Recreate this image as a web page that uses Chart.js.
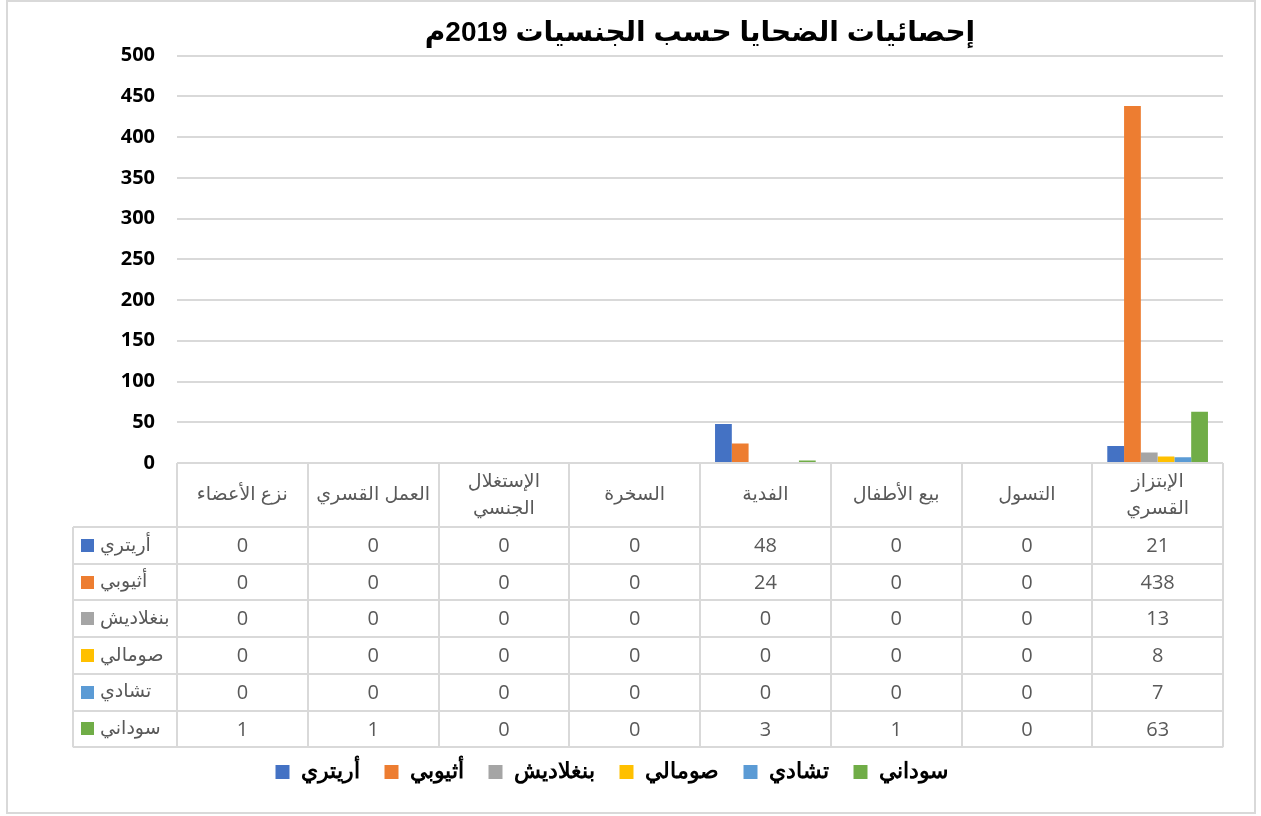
<!DOCTYPE html>
<html lang="ar">
<head>
<meta charset="utf-8">
<title>إحصائيات الضحايا حسب الجنسيات 2019م</title>
<script src="https://cdn.jsdelivr.net/npm/chart.js@4/dist/chart.umd.min.js"></script>
<style>
    html, body { margin: 0; padding: 0; background: #fff; }
    #wrap { width: 1261px; height: 816px; position: relative; }
</style>
</head>
<body>
<div id="wrap"><canvas id="victimsChart" width="1261" height="816"></canvas></div>
<script>
// ============================================
// DATA (categories shown left -> right)
// ============================================
const categories = [
    ['نزع الأعضاء'],
    ['العمل القسري'],
    ['الإستغلال', 'الجنسي'],
    ['السخرة'],
    ['الفدية'],
    ['بيع الأطفال'],
    ['التسول'],
    ['الإبتزاز', 'القسري']
];

const seriesNames = ['أريتري', 'أثيوبي', 'بنغلاديش', 'صومالي', 'تشادي', 'سوداني'];

const eritrea    = [0, 0, 0, 0, 48, 0, 0, 21];
const ethiopia   = [0, 0, 0, 0, 24, 0, 0, 438];
const bangladesh = [0, 0, 0, 0, 0, 0, 0, 13];
const somalia    = [0, 0, 0, 0, 0, 0, 0, 8];
const chad       = [0, 0, 0, 0, 0, 0, 0, 7];
const sudan      = [1, 1, 0, 0, 3, 1, 0, 63];

const yTicks = [0, 50, 100, 150, 200, 250, 300, 350, 400, 450, 500];

const seriesValues = [eritrea, ethiopia, bangladesh, somalia, chad, sudan];
const seriesColors = ['#4472C4', '#ED7D31', '#A5A5A5', '#FFC000', '#5B9BD5', '#70AD47'];

const GRID = '#d9d9d9';
const TEXT_GRAY = '#595959';
const ARABIC_FONT = '"Liberation Sans", "DejaVu Sans", sans-serif';

// ============================================
// PLUGINS
// ============================================
const frameBorder = {
    id: 'frameBorder',
    beforeDraw(chart) {
        const ctx = chart.ctx;
        ctx.save();
        ctx.fillStyle = '#fff';
        ctx.fillRect(0, 0, chart.width, chart.height);
        ctx.strokeStyle = GRID;
        ctx.lineWidth = 2;
        ctx.strokeRect(7, 1, 1248, 812);
        ctx.restore();
    }
};

// Excel-style data table under the plot
const dataTable = {
    id: 'dataTable',
    afterDraw(chart) {
        const ctx = chart.ctx;
        const x = chart.scales.x;
        const top = chart.chartArea.bottom;
        const headerH = 64;
        const rowH = 36.7;
        const left = x.left;
        const right = x.right;
        const colW = (right - left) / categories.length;
        const rowLeft = 73;
        const bottom = top + headerH + rowH * seriesValues.length;

        ctx.save();
        ctx.strokeStyle = GRID;
        ctx.lineWidth = 2;

        // vertical lines of category columns
        for (let i = 0; i <= categories.length; i++) {
            const px = Math.round(left + i * colW);
            ctx.beginPath();
            ctx.moveTo(px, top);
            ctx.lineTo(px, bottom);
            ctx.stroke();
        }
        // left edge of row header column
        ctx.beginPath();
        ctx.moveTo(rowLeft, top + headerH);
        ctx.lineTo(rowLeft, bottom);
        ctx.stroke();

        // horizontal lines
        ctx.beginPath();
        ctx.moveTo(left, top);
        ctx.lineTo(right, top);
        ctx.stroke();
        for (let r = 0; r <= seriesValues.length; r++) {
            const py = Math.round(top + headerH + r * rowH);
            ctx.beginPath();
            ctx.moveTo(rowLeft, py);
            ctx.lineTo(right, py);
            ctx.stroke();
        }

        // header labels
        ctx.fillStyle = TEXT_GRAY;
        ctx.textAlign = 'center';
        ctx.textBaseline = 'middle';
        ctx.font = '19px ' + ARABIC_FONT;
        categories.forEach((lines, i) => {
            const cx = x.getPixelForValue(i);
            const lh = 27;
            const cy = top + headerH / 2 - (lines.length - 1) * lh / 2;
            lines.forEach((txt, k) => ctx.fillText(txt, cx, cy + k * lh));
        });

        // rows
        seriesValues.forEach((vals, r) => {
            const cy = top + headerH + r * rowH + rowH / 2;
            ctx.fillStyle = seriesColors[r];
            ctx.fillRect(81, Math.round(cy - 6.5), 13, 13);
            ctx.fillStyle = TEXT_GRAY;
            ctx.textAlign = 'left';
            ctx.font = '19px ' + ARABIC_FONT;
            ctx.fillText(seriesNames[r], 100, cy);
            ctx.textAlign = 'center';
            ctx.font = '20px "Open Sans", "Liberation Sans", sans-serif';
            vals.forEach((v, i) => ctx.fillText(String(v), x.getPixelForValue(i), cy + 1));
        });
        ctx.restore();
    }
};

// ============================================
// CHART
// ============================================
const ctx = document.getElementById('victimsChart');

const victimsChart = new Chart(ctx.getContext('2d'), {
    type: 'bar',
    data: {
        labels: categories.map(c => c.join(' ')),
        datasets: seriesNames.map((name, i) => ({
            label: name,
            data: seriesValues[i],
            backgroundColor: seriesColors[i],
            borderWidth: 0,
            categoryPercentage: 0.77,
            barPercentage: 1
        }))
    },
    options: {
        responsive: false,
        animation: false,
        layout: { padding: { left: 0, right: 38, top: 0, bottom: 23 } },
        plugins: {
            title: {
                display: true,
                text: 'إحصائيات الضحايا حسب الجنسيات 2019م',
                color: '#000',
                fullSize: false,
                font: { size: 28, weight: 'bold', family: ARABIC_FONT },
                padding: { top: 16, bottom: 6 }
            },
            legend: {
                position: 'bottom',
                labels: {
                    color: '#000',
                    font: { size: 22, weight: 'bold', family: '"DejaVu Serif", "Liberation Serif", serif' },
                    boxWidth: 14,
                    boxHeight: 14,
                    padding: 25
                }
            },
            tooltip: { enabled: false }
        },
        scales: {
            x: {
                grid: { display: false },
                border: { display: false },
                ticks: { display: false },
                afterFit(scale) { scale.height = 273; }
            },
            y: {
                min: 0,
                max: 500,
                afterBuildTicks(scale) { scale.ticks = yTicks.map(v => ({ value: v })); },
                grid: { color: GRID, lineWidth: 2, drawTicks: false },
                border: { display: false },
                ticks: {
                    color: '#000',
                    padding: 22,
                    font: { size: 20, weight: 'bold', family: '"Open Sans", "Liberation Sans", sans-serif' }
                },
                afterFit(scale) { scale.width = 177; }
            }
        }
    },
    plugins: [frameBorder, dataTable]
});
</script>
</body>
</html>
